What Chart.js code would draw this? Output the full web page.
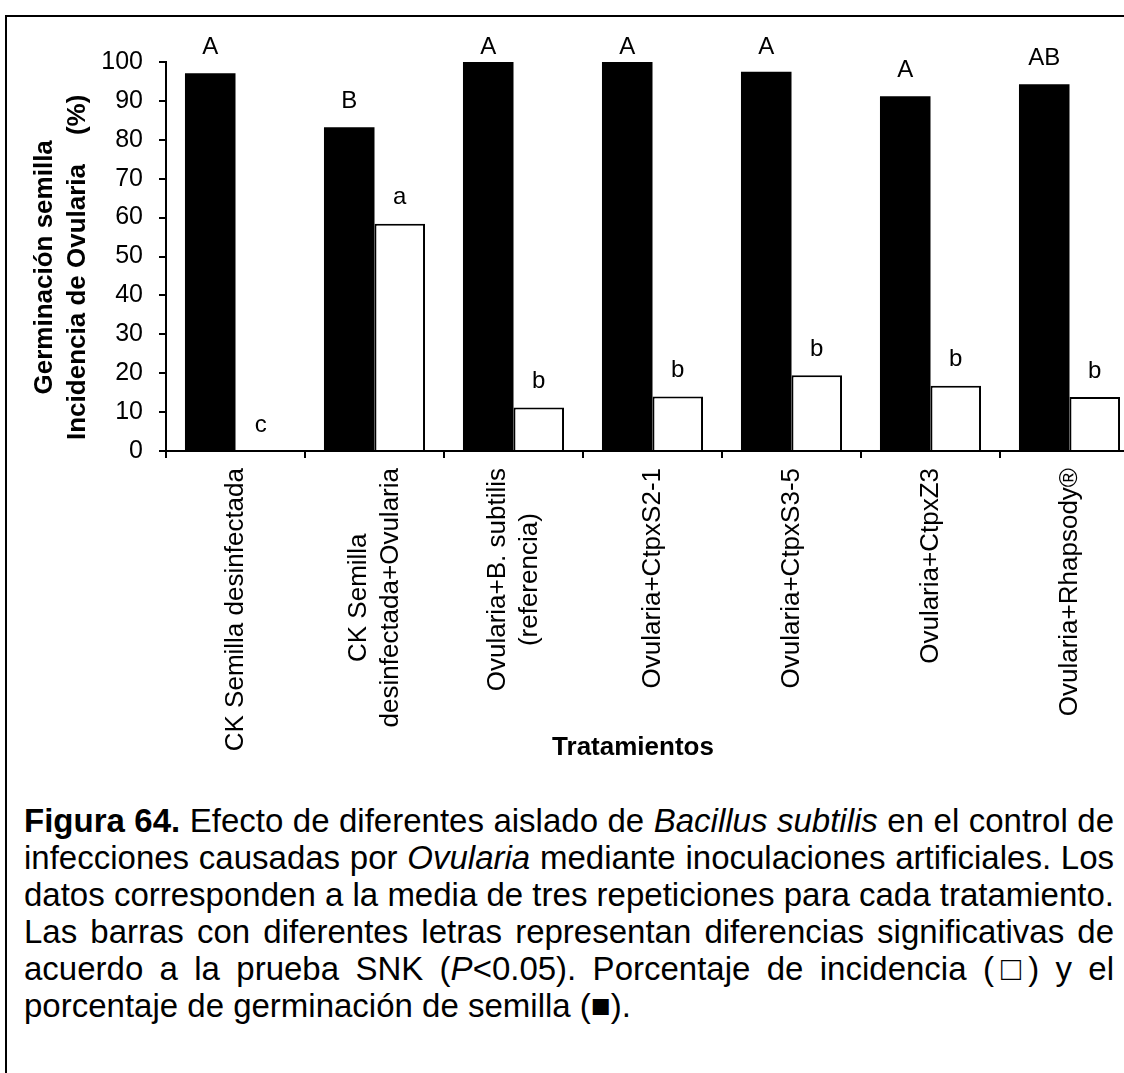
<!DOCTYPE html>
<html><head><meta charset="utf-8">
<script src="https://cdn.jsdelivr.net/npm/chart.js@4"></script>
<style>
html,body{margin:0;padding:0;background:#fff;overflow:hidden;width:1124px;height:1073px;}
#frame{position:absolute;left:5px;top:15px;width:1400px;height:1400px;border-left:2px solid #000;border-top:2px solid #000;}
#wrap{position:absolute;left:0;top:0;width:1200px;height:800px;}
#caption{position:absolute;left:24px;top:802px;width:1090px;font-family:'Liberation Sans',Arial,sans-serif;font-size:33px;color:#000;}
#caption div{height:37px;line-height:37px;text-align:justify;text-align-last:justify;white-space:nowrap;}
#caption div.last{text-align:left;text-align-last:left;}
</style></head>
<body>
<div id="frame"></div>
<div id="wrap"><canvas id="c" width="1200" height="800"></canvas></div>
<div id="caption">
<div><b>Figura 64.</b> Efecto de diferentes aislado de <i>Bacillus subtilis</i> en el control de</div>
<div>infecciones causadas por <i>Ovularia</i> mediante inoculaciones artificiales. Los</div>
<div>datos corresponden a la media de tres repeticiones para cada tratamiento.</div>
<div>Las barras con diferentes letras representan diferencias significativas de</div>
<div>acuerdo a la prueba SNK (<i>P</i>&lt;0.05). Porcentaje de incidencia (□) y el</div>
<div class="last">porcentaje de germinación de semilla (■).</div>
</div>
<script>
const tratamientos = [
  ['CK Semilla desinfectada'],
  ['CK Semilla', 'desinfectada+Ovularia'],
  ['Ovularia+B. subtilis', '(referencia)'],
  ['Ovularia+CtpxS2-1'],
  ['Ovularia+CtpxS3-5'],
  ['Ovularia+CtpxZ3'],
  ['Ovularia+Rhapsody®']
];
const germinacion = [97.1, 83.2, 100, 100, 97.5, 91.2, 94.3];
const incidencia = [0, 58.4, 11.2, 14.0, 19.5, 16.8, 13.9];
const letrasGerminacion = ['A', 'B', 'A', 'A', 'A', 'A', 'AB'];
const letrasIncidencia = ['c', 'a', 'b', 'b', 'b', 'b', 'b'];
const yTicks = [0, 10, 20, 30, 40, 50, 60, 70, 80, 90, 100];
const yTitle = ['Germinación semilla\u00A0\u00A0\u00A0', 'Incidencia de Ovularia\u00A0\u00A0\u00A0\u00A0(%)\u00A0\u00A0\u00A0'];
const xTitle = 'Tratamientos';

const FONT = '"Liberation Sans", Arial, sans-serif';

const labelPlugin = {
  id: 'labelPlugin',
  afterDatasetsDraw(chart) {
    const ctx = chart.ctx;
    ctx.save();
    ctx.fillStyle = '#000';
    ctx.font = '24px ' + FONT;
    ctx.textAlign = 'center';
    ctx.textBaseline = 'middle';
    [letrasGerminacion, letrasIncidencia].forEach((letters, di) => {
      const meta = chart.getDatasetMeta(di);
      meta.data.forEach((bar, i) => {
        const y = Math.max(bar.y - 26, 47);
        ctx.fillText(letters[i], bar.x, y);
      });
    });
    const xs = chart.scales.x;
    ctx.font = '26px ' + FONT;
    ctx.textAlign = 'center';
    tratamientos.forEach((lines, i) => {
      const cx = xs.getPixelForValue(i);
      const maxW = Math.max(...lines.map(l => ctx.measureText(l).width));
      lines.forEach((ln, j) => {
        ctx.save();
        ctx.translate(cx + (j - (lines.length - 1) / 2) * 32, xs.top + 17 + maxW / 2);
        ctx.rotate(-Math.PI / 2);
        ctx.fillText(ln, 0, 0);
        ctx.restore();
      });
    });
    ctx.font = 'bold 26px ' + FONT;
    ctx.textAlign = 'center';
    ctx.fillText(xTitle, 633, 748);
    ctx.restore();
  }
};

new Chart(document.getElementById('c'), {
  type: 'bar',
  data: {
    labels: tratamientos.map(l => l.join(' ')),
    datasets: [
      { label: 'Germinación', data: germinacion, backgroundColor: '#000', borderWidth: 0 },
      { label: 'Incidencia', data: incidencia, backgroundColor: '#fff', borderColor: '#000', borderWidth: 2 }
    ]
  },
  options: {
    responsive: false,
    animation: false,
    devicePixelRatio: 1,
    categoryPercentage: 0.727,
    barPercentage: 1.0,
    layout: { padding: { left: 0, top: 62, right: 61, bottom: 0 } },
    plugins: { legend: { display: false }, tooltip: { enabled: false } },
    scales: {
      x: {
        grid: { drawOnChartArea: false, drawTicks: true, tickLength: 7, color: '#000', lineWidth: 2, offset: true },
        border: { display: true, color: '#000', width: 2 },
        ticks: { display: false },
        afterFit: s => { s.height = 349; }
      },
      y: {
        min: 0, max: 100,
        afterBuildTicks: s => { s.ticks = yTicks.map(v => ({ value: v })); },
        grid: { drawOnChartArea: false, drawTicks: true, tickLength: 7, color: '#000', lineWidth: 2 },
        border: { display: true, color: '#000', width: 2 },
        ticks: { color: '#000', font: { family: FONT, size: 25 }, padding: 16 },
        title: { display: true, text: yTitle, color: '#000', font: { family: FONT, size: 26, weight: 'bold', lineHeight: 1.27 }, padding: { top: 28, bottom: 0 } },
        afterFit: s => { s.width = 166; }
      }
    }
  },
  plugins: [labelPlugin]
});
</script>
</body></html>
